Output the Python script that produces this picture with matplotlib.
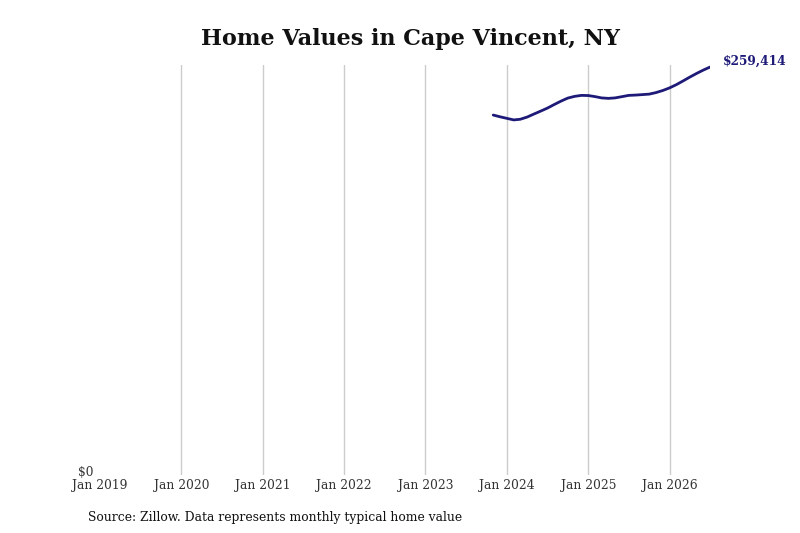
"""Home values in Cape Vincent, NY — monthly typical home value line."""
import matplotlib
matplotlib.use("Agg")
import matplotlib.pyplot as plt
import matplotlib.dates as mdates
import matplotlib.transforms as mtransforms
import pandas as pd

MONTHS = pd.date_range("2023-11-01", "2026-07-01", freq="MS")
VALUES = [228900, 227800, 226800, 225800, 226200, 227600, 229500, 231400,
          233300, 235600, 237800, 239700, 240800, 241400, 241300, 240600,
          239800, 239500, 239800, 240600, 241400, 241600, 241900, 242200,
          243200, 244500, 246200, 248300, 250500, 253000, 255300, 257500,
          259414]
YEAR_TICKS = pd.date_range("2019-01-01", "2026-01-01", freq="YS")
LINE = "#1e1a78"

plt.rcParams["font.family"] = ["DejaVu Serif"]

fig = plt.figure(figsize=(8, 5.33), dpi=100)
ax = fig.add_axes([0.125, 0.109, 0.7625, 0.769])

ax.plot(MONTHS, VALUES, color=LINE, linewidth=2.0, solid_capstyle="round")
ax.set_xlim(pd.Timestamp("2019-01-01"), MONTHS[-1])
ax.set_ylim(0, max(VALUES) * 1.005)

ax.set_xticks(YEAR_TICKS)
ax.xaxis.set_major_formatter(mdates.DateFormatter("Jan %Y"))
ax.set_yticks([0])
ax.set_yticklabels(["$0"])
ax.tick_params(axis="x", length=0, pad=3, labelsize=8.8, colors="#333333")
ax.tick_params(axis="y", length=0, pad=5, labelsize=8.8, colors="#333333")
# lift the $0 label a touch so it sits just above "Jan 2019"
lift = mtransforms.ScaledTranslation(0, 3 / 72, fig.dpi_scale_trans)
for lab in ax.get_yticklabels():
    lab.set_transform(lab.get_transform() + lift)

ax.grid(axis="x", color="#cccccc", linewidth=1.0)
ax.xaxis.get_major_ticks()[0].gridline.set_visible(False)
ax.set_axisbelow(True)
for s in ax.spines.values():
    s.set_visible(False)

ax.annotate(f"${VALUES[-1]:,}", xy=(MONTHS[-1], VALUES[-1]),
            xytext=(9, 4), textcoords="offset points",
            color=LINE, fontsize=8.8, fontweight="bold", va="center")

fig.text(0.5125, 0.927, "Home Values in Cape Vincent, NY", ha="center",
         va="center", fontsize=16, fontweight="bold", color="#111111")
fig.text(0.11, 0.03, "Source: Zillow. Data represents monthly typical home value",
         ha="left", va="center", fontsize=8.9, color="#111111")

fig.savefig("out.png", dpi=100)
